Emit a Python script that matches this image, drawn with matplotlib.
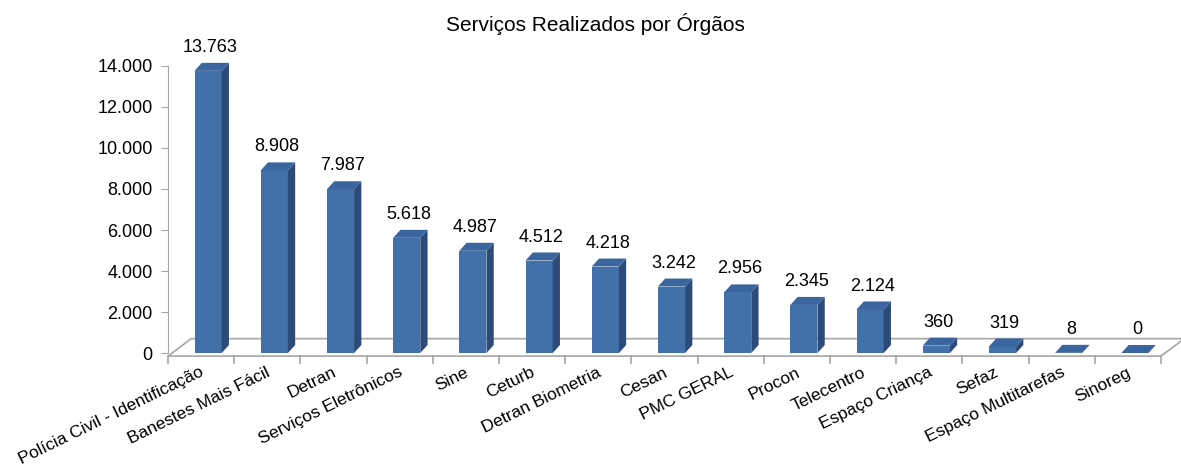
import matplotlib.pyplot as plt
from matplotlib.patches import Polygon

plt.rcParams['font.family'] = ['Liberation Sans', 'DejaVu Sans']

# data
categories = ['Polícia Civil - Identificação', 'Banestes Mais Fácil', 'Detran',
              'Serviços Eletrônicos', 'Sine', 'Ceturb', 'Detran Biometria', 'Cesan',
              'PMC GERAL', 'Procon', 'Telecentro', 'Espaço Criança', 'Sefaz',
              'Espaço Multitarefas', 'Sinoreg']
values = [13763, 8908, 7987, 5618, 4987, 4512, 4218, 3242, 2956, 2345, 2124,
          360, 319, 8, 0]
yticks = [0, 2000, 4000, 6000, 8000, 10000, 12000, 14000]

FRONT = '#4270AB'
SIDE = '#2C4B78'
TOP = '#3A659E'
GRID = '#A6A6A6'


def fmt(v):
    return f"{v:,}".replace(',', '.')


fig = plt.figure(figsize=(11.81, 4.68), dpi=100)
ax = fig.add_axes([0.1423, 0.2457, 0.8408, 0.6133])
ax.set_xlim(-0.5, len(categories) - 0.5)
ax.set_ylim(0, 14000)

# fake 3D depth, in data units
dx, dy = 0.11, 390
bw, off = 0.41, -0.10

# floor
fx, fy0, fy1 = 0.35, -150, 700
x0, x1 = -0.5, len(categories) - 0.5
floor = Polygon([(x0, fy0), (x1, fy0), (x1 + fx, fy1), (x0 + fx, fy1)],
                closed=True, facecolor='white', edgecolor=GRID, lw=1.2,
                clip_on=False, zorder=1)
ax.add_patch(floor)

xs = list(range(len(categories)))
ax.bar([x + off for x in xs], values, width=bw, align='edge', color=FRONT,
       edgecolor='none', zorder=3)
for x, v in zip(xs, values):
    l = x + off
    r = l + bw
    side = Polygon([(r, 0), (r + dx, dy), (r + dx, v + dy), (r, v)],
                   closed=True, facecolor=SIDE, edgecolor='none', zorder=3,
                   clip_on=False)
    top = Polygon([(l, v), (r, v), (r + dx, v + dy), (l + dx, v + dy)],
                  closed=True, facecolor=TOP, edgecolor='none', zorder=4,
                  clip_on=False)
    ax.add_patch(side)
    ax.add_patch(top)
    ax.annotate(fmt(v), (x + 0.14, v + dy), xytext=(0, 5),
                textcoords='offset points', ha='center', va='bottom',
                fontsize=13, annotation_clip=False)

# axes styling
for s in ['top', 'right', 'bottom']:
    ax.spines[s].set_visible(False)
ax.spines['left'].set_color(GRID)
ax.set_yticks(yticks)
ax.set_yticklabels([fmt(t) for t in yticks], fontsize=13)
ax.tick_params(axis='y', length=5, color=GRID, pad=6)

# category ticks along the front floor edge
ax.set_xticks([])
for b in range(len(categories) + 1):
    ax.plot([b - 0.5, b - 0.5], [fy0, fy0 - 350], color=GRID, lw=1.2,
            clip_on=False, zorder=2)
for x, lab in zip(xs, categories):
    ax.text(x + 0.03, -900, lab, rotation=26, rotation_mode='anchor',
            ha='right', va='center', fontsize=12.5)

fig.text(0.504, 0.948, 'Serviços Realizados por Órgãos', ha='center',
         va='center', fontsize=15)

fig.savefig('out.png', dpi=100)
